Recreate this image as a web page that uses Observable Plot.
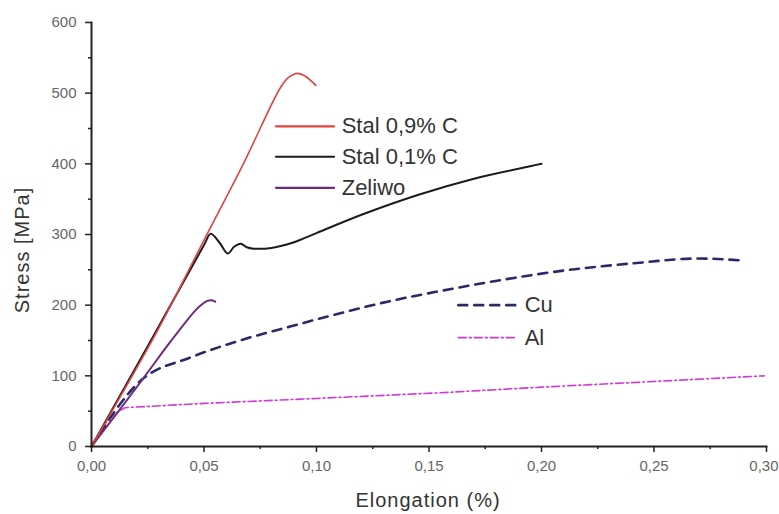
<!DOCTYPE html>
<html>
<head>
<meta charset="utf-8">
<script src="https://cdn.jsdelivr.net/npm/d3@7"></script>
<script src="https://cdn.jsdelivr.net/npm/@observablehq/plot@0.6"></script>
<style>
  html, body { margin: 0; padding: 0; background: #fff; }
  svg { font-family: "Liberation Sans", Arial, sans-serif; }
</style>
</head>
<body>
<div id="chart"></div>
<script>
// ---- data (elongation, stress) ----
const stal09X = [0, 0.01, 0.03, 0.05, 0.0675, 0.084, 0.0875, 0.0917, 0.095, 0.0997];
const stal09Y = [0, 55, 168, 292, 400, 508, 522, 528, 524, 511];

const stal01X = [0, 0.025, 0.05, 0.053, 0.057, 0.0605, 0.0635, 0.0663, 0.069, 0.072, 0.08, 0.09, 0.1, 0.12, 0.145, 0.17, 0.1955, 0.2];
const stal01Y = [0, 142, 285, 301, 288, 273, 283, 287, 282, 280, 281, 289, 302, 328, 356, 379, 397, 400];

const zeliwoX = [0, 0.022, 0.035, 0.046, 0.049, 0.0515, 0.0535, 0.055];
const zeliwoY = [0, 92, 148, 192, 201, 206, 207, 205];

const cuX = [0, 0.0218, 0.044, 0.066, 0.0886, 0.111, 0.133, 0.155, 0.181, 0.21, 0.24, 0.27, 0.29];
const cuY = [0, 93, 126, 150, 170, 189, 206, 220, 235, 249, 259, 266, 263];

const alX = [0, 0.008, 0.015, 0.05, 0.1, 0.155, 0.2, 0.25, 0.299];
const alY = [0, 42, 55, 61, 68, 76, 84, 92, 100];

const xTicks = [0, 0.05, 0.10, 0.15, 0.20, 0.25, 0.30];
const xMinor = [0.025, 0.075, 0.125, 0.175, 0.225, 0.275];
const yTicks = [0, 100, 200, 300, 400, 500, 600];
const yMinor = [50, 150, 250, 350, 450, 550];

const seriesNames = ["Stal 0,9% C", "Stal 0,1% C", "Zeliwo", "Cu", "Al"];

// ---- build tables ----
const toRows = (xs, ys) => xs.map((x, i) => ({x, y: ys[i]}));
const S = {
  s09: toRows(stal09X, stal09Y),
  s01: toRows(stal01X, stal01Y),
  zel: toRows(zeliwoX, zeliwoY),
  cu: toRows(cuX, cuY),
  al: toRows(alX, alY)
};

const styles = {
  s09: {stroke: "#e0443e", strokeWidth: 1.6, curve: "catmull-rom"},
  s01: {stroke: "#1c1c1c", strokeWidth: 2, curve: "catmull-rom"},
  zel: {stroke: "#6e2a80", strokeWidth: 2, curve: "catmull-rom"},
  cu: {stroke: "#2a2a66", strokeWidth: 2.6, strokeDasharray: "9,7", curve: "monotone-x"},
  al: {stroke: "#d03ad0", strokeWidth: 1.6, strokeDasharray: "8,3,2,3", curve: "linear"}
};

// legend layout (in data units)
const legend1 = [
  {key: "s09", name: seriesNames[0], y: 453},
  {key: "s01", name: seriesNames[1], y: 410},
  {key: "zel", name: seriesNames[2], y: 366}
];
const legend2 = [
  {key: "cu", name: seriesNames[3], y: 200},
  {key: "al", name: seriesNames[4], y: 154}
];

const fmtX = d => d3.format(".2f")(d).replace(".", ",");
const blank = () => "";
const lastX = xTicks[xTicks.length - 1];

const marks = [];
for (const k of ["al", "cu", "zel", "s01", "s09"]) {
  marks.push(Plot.line(S[k], {x: "x", y: "y", ...styles[k]}));
}
for (const l of legend1) {
  marks.push(Plot.line([{x: 0.082, y: l.y}, {x: 0.1078, y: l.y}], {x: "x", y: "y", stroke: styles[l.key].stroke, strokeWidth: 2.2}));
}
marks.push(Plot.text(legend1, {x: () => 0.1112, y: "y", text: "name", textAnchor: "start", fontSize: 22, fill: "#333"}));
for (const l of legend2) {
  marks.push(Plot.line([{x: 0.163, y: l.y}, {x: 0.1885, y: l.y}], {x: "x", y: "y", ...styles[l.key], curve: "linear"}));
}
marks.push(Plot.text(legend2, {x: () => 0.1925, y: "y", text: "name", textAnchor: "start", fontSize: 22, fill: "#333"}));

// axes
marks.push(
  Plot.axisX(xTicks, {tickSize: 6, tickPadding: 8, tickFormat: d => d === lastX ? "" : fmtX(d), fontSize: 15, color: "#666", stroke: "#222", strokeWidth: 1.5, label: null}),
  Plot.text([lastX], {x: d => d, frameAnchor: "bottom", lineAnchor: "top", dy: 14, dx: 12, textAnchor: "end", text: d => fmtX(d), fontSize: 15, fill: "#666"}),
  Plot.axisX(xMinor, {tickSize: 3, tickFormat: blank, stroke: "#222", strokeWidth: 1.5, label: null}),
  Plot.axisY(yTicks, {tickSize: 6, tickPadding: 9, tickFormat: d => String(d), fontSize: 15, color: "#666", stroke: "#222", strokeWidth: 1.5, label: null}),
  Plot.axisY(yMinor, {tickSize: 3, tickFormat: blank, stroke: "#222", strokeWidth: 1.5, label: null}),
  Plot.frame({anchor: "bottom", stroke: "#222", strokeWidth: 2}),
  Plot.frame({anchor: "left", stroke: "#222", strokeWidth: 2})
);

const chart = Plot.plot({
  width: 779,
  height: 514,
  marginLeft: 91,
  marginRight: 13,
  marginTop: 22,
  marginBottom: 68,
  x: {domain: [0, 0.3]},
  y: {domain: [0, 600]},
  style: {fontFamily: "'Liberation Sans', Arial, sans-serif", background: "#fff"},
  marks
});

// axis titles
const svg = d3.select(chart);
svg.append("text")
  .attr("x", 428).attr("y", 507)
  .attr("text-anchor", "middle")
  .attr("font-size", 20).attr("fill", "#333")
  .attr("letter-spacing", 1)
  .text("Elongation (%)");
svg.append("text")
  .attr("transform", "translate(29,250) rotate(-90)")
  .attr("text-anchor", "middle")
  .attr("font-size", 20).attr("fill", "#333")
  .attr("letter-spacing", 1)
  .text("Stress [MPa]");

document.getElementById("chart").appendChild(chart);
</script>
</body>
</html>
